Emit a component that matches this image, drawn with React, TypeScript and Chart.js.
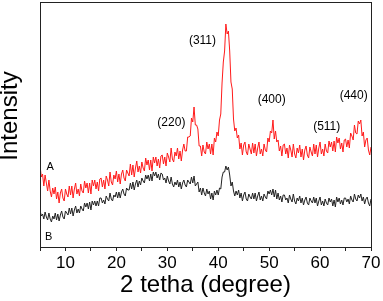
import React, { useEffect, useRef } from "react";
import { Chart, registerables } from "chart.js";

Chart.register(...registerables);

// sampling grid of the diffractogram (2θ, degrees)
const X_START = 5;
const X_STEP = 0.25;

// Curve A (red), one row per degree: x.00, x.25, x.50, x.75
const seriesA = [
  82, 70, 73, 61, // 5
  72, 64, 56, 67, // 6
  56, 50, 59, 53, // 7
  60, 48, 55, 44, // 8
  54, 58, 49, 46, // 9
  58, 53, 50, 61, // 10
  52, 61, 49, 58, // 11
  64, 53, 58, 51, // 12
  63, 56, 54, 66, // 13
  59, 64, 54, 64, // 14
  53, 67, 61, 67, // 15
  58, 65, 56, 68, // 16
  69, 60, 67, 58, // 17
  71, 67, 61, 75, // 18
  65, 62, 72, 68, // 19
  76, 65, 73, 63, // 20
  73, 77, 69, 66, // 21
  77, 74, 71, 83, // 22
  72, 82, 70, 79, // 23
  86, 75, 81, 74, // 24
  85, 79, 76, 89, // 25
  82, 87, 77, 87, // 26
  76, 90, 84, 90, // 27
  81, 88, 79, 91, // 28
  92, 83, 90, 81, // 29
  94, 90, 85, 99, // 30
  88, 85, 95, 91, // 31
  99, 88, 96, 86, // 32
  97, 103, 96, 96, // 33
  110, 110, 111, 129, // 34
  125, 140, 122, 122, // 35
  118, 101, 101, 91, // 36
  102, 95, 93, 105, // 37
  98, 103, 93, 103, // 38
  92, 109, 105, 115, // 39
  111, 127, 133, 164, // 40
  185, 196, 223, 213, // 41
  216, 196, 165, 158, // 42
  128, 116, 119, 109, // 43
  112, 98, 104, 92, // 44
  102, 105, 95, 92, // 45
  103, 98, 93, 104, // 46
  94, 103, 91, 99, // 47
  105, 93, 98, 91, // 48
  103, 97, 95, 109, // 49
  105, 116, 114, 127, // 50
  108, 116, 105, 107, // 51
  96, 101, 91, 102, // 52
  103, 93, 99, 89, // 53
  102, 97, 90, 103, // 54
  93, 89, 99, 94, // 55
  102, 90, 98, 87, // 56
  97, 101, 92, 89, // 57
  100, 95, 91, 103, // 58
  93, 102, 90, 99, // 59
  105, 93, 98, 91, // 60
  103, 96, 94, 106, // 61
  100, 105, 96, 106, // 62
  95, 110, 104, 109, // 63
  98, 104, 95, 107, // 64
  108, 100, 107, 99, // 65
  114, 111, 107, 122, // 66
  114, 113, 126, 123, // 67
  127, 111, 115, 100, // 68
  107, 109, 97, 92, // 69
  100, // 70
];

// Curve B (black)
const seriesB = [
  37, 31, 33, 28, // 5
  35, 30, 27, 34, // 6
  28, 25, 31, 28, // 7
  34, 27, 33, 26, // 8
  32, 36, 30, 28, // 9
  36, 34, 32, 39, // 10
  33, 39, 31, 37, // 11
  41, 34, 38, 34, // 12
  41, 38, 36, 44, // 13
  40, 44, 38, 45, // 14
  37, 46, 42, 46, // 15
  41, 46, 41, 49, // 16
  49, 44, 47, 43, // 17
  51, 48, 46, 54, // 18
  48, 46, 52, 50, // 19
  55, 49, 55, 49, // 20
  55, 58, 53, 51, // 21
  59, 57, 57, 64, // 22
  58, 65, 57, 63, // 23
  67, 60, 66, 62, // 24
  69, 66, 64, 72, // 25
  68, 72, 66, 73, // 26
  66, 75, 71, 75, // 27
  69, 73, 67, 74, // 28
  73, 67, 69, 64, // 29
  71, 66, 63, 70, // 30
  63, 60, 65, 62, // 31
  67, 60, 65, 58, // 32
  64, 67, 62, 60, // 33
  67, 65, 63, 70, // 34
  64, 71, 61, 63, // 35
  65, 55, 59, 52, // 36
  59, 54, 51, 58, // 37
  53, 56, 48, 54, // 38
  47, 56, 52, 57, // 39
  52, 59, 58, 70, // 40
  75, 75, 81, 77, // 41
  80, 72, 61, 65, // 42
  56, 51, 56, 52, // 43
  57, 49, 54, 46, // 44
  52, 55, 48, 46, // 45
  53, 50, 48, 54, // 46
  48, 54, 46, 51, // 47
  55, 47, 51, 46, // 48
  53, 50, 48, 56, // 49
  53, 57, 52, 58, // 50
  50, 57, 48, 54, // 51
  47, 51, 45, 52, // 52
  52, 47, 49, 44, // 53
  52, 48, 45, 53, // 54
  46, 43, 49, 46, // 55
  51, 44, 49, 42, // 56
  47, 50, 44, 42, // 57
  49, 46, 44, 50, // 58
  44, 49, 41, 46, // 59
  50, 42, 46, 41, // 60
  48, 44, 42, 49, // 61
  45, 48, 41, 47, // 62
  40, 50, 45, 49, // 63
  43, 47, 42, 49, // 64
  49, 45, 48, 43, // 65
  51, 47, 45, 53, // 66
  48, 46, 52, 49, // 67
  53, 46, 50, 43, // 68
  48, 50, 44, 41, // 69
  48, // 70
];

const X_MIN = 5;
const X_MAX = 70;
const Y_MIN = 0;
const Y_MAX = 244;

const peakLabels = ["(220)", "(311)", "(400)", "(511)", "(440)"];
const peakLabelX = [30.8, 36.9, 50.5, 61.3, 66.6];
const peakLabelY = [124.5, 206, 147.5, 120.5, 151];

const curveLabels = ["A", "B"];
const curveLabelX = [7.0, 6.7];
const curveLabelY = [80.5, 10];

const xTitle = "2 tetha (degree)";
const yTitle = "Intensity";

const FONT = "'Liberation Sans', Arial, Helvetica, sans-serif";

const toPoints = (arr: number[]) =>
  arr.map((y, i) => ({ x: X_START + i * X_STEP, y }));

const overlayPlugin = {
  id: "overlay",
  afterDraw(chart: any) {
    const { ctx, chartArea, scales } = chart;
    const xs = scales.x;
    const ys = scales.y;
    ctx.save();
    // frame
    ctx.strokeStyle = "#222";
    ctx.lineWidth = 1;
    ctx.strokeRect(
      chartArea.left + 0.5,
      chartArea.top - 0.5,
      chartArea.right - chartArea.left,
      chartArea.bottom - chartArea.top + 1
    );
    ctx.fillStyle = "#000";
    ctx.textAlign = "center";
    ctx.textBaseline = "middle";
    // peak labels
    ctx.font = `12px ${FONT}`;
    peakLabels.forEach((t, i) => {
      ctx.fillText(t, xs.getPixelForValue(peakLabelX[i]), ys.getPixelForValue(peakLabelY[i]));
    });
    // curve labels
    ctx.font = `11px ${FONT}`;
    curveLabels.forEach((t, i) => {
      ctx.fillText(t, xs.getPixelForValue(curveLabelX[i]), ys.getPixelForValue(curveLabelY[i]));
    });
    // y title
    ctx.font = `24px ${FONT}`;
    ctx.translate(10.5, 116);
    ctx.rotate(-Math.PI / 2);
    ctx.fillText(yTitle, 0, 0);
    ctx.restore();
  },
};

export default function App() {
  const canvasRef = useRef<HTMLCanvasElement | null>(null);

  useEffect(() => {
    document.body.style.margin = "0";
    const canvas = canvasRef.current;
    if (!canvas) return;
    const chart = new Chart(canvas, {
      type: "line",
      data: {
        datasets: [
          {
            label: "A",
            data: toPoints(seriesA),
            borderColor: "#ff1a1a",
            borderWidth: 1,
            pointRadius: 0,
            tension: 0,
            fill: false,
          },
          {
            label: "B",
            data: toPoints(seriesB),
            borderColor: "#222222",
            borderWidth: 1,
            pointRadius: 0,
            tension: 0,
            fill: false,
          },
        ],
      },
      options: {
        animation: false,
        responsive: false,
        devicePixelRatio: 1,
        layout: { padding: { left: 0, right: 12, top: 3, bottom: 0 } },
        plugins: {
          legend: { display: false },
          tooltip: { enabled: false },
        },
        scales: {
          x: {
            type: "linear",
            min: X_MIN,
            max: X_MAX,
            border: { display: false },
            grid: {
              drawOnChartArea: false,
              drawTicks: true,
              tickLength: 4,
              color: "#222",
            },
            ticks: {
              stepSize: 5,
              autoSkip: false,
              maxRotation: 0,
              padding: 2,
              color: "#000",
              font: { family: FONT, size: 17 },
              callback: (v: any) => (Number(v) % 10 === 0 ? String(v) : ""),
            },
            title: {
              display: true,
              text: xTitle,
              color: "#000",
              font: { family: FONT, size: 24, lineHeight: 1 },
              padding: { top: 0, bottom: 3.5 },
            },
            afterFit: (scale: any) => {
              scale.height = 54;
            },
          },
          y: {
            type: "linear",
            min: Y_MIN,
            max: Y_MAX,
            border: { display: false },
            grid: { display: false },
            ticks: { display: false },
            afterFit: (scale: any) => {
              scale.width = 40;
            },
          },
        },
      },
      plugins: [overlayPlugin],
    });
    return () => chart.destroy();
  }, []);

  return (
    <div style={{ position: "fixed", left: 0, top: 0, width: 383, height: 301, background: "#fff" }}>
      <canvas ref={canvasRef} width={383} height={301} />
    </div>
  );
}
